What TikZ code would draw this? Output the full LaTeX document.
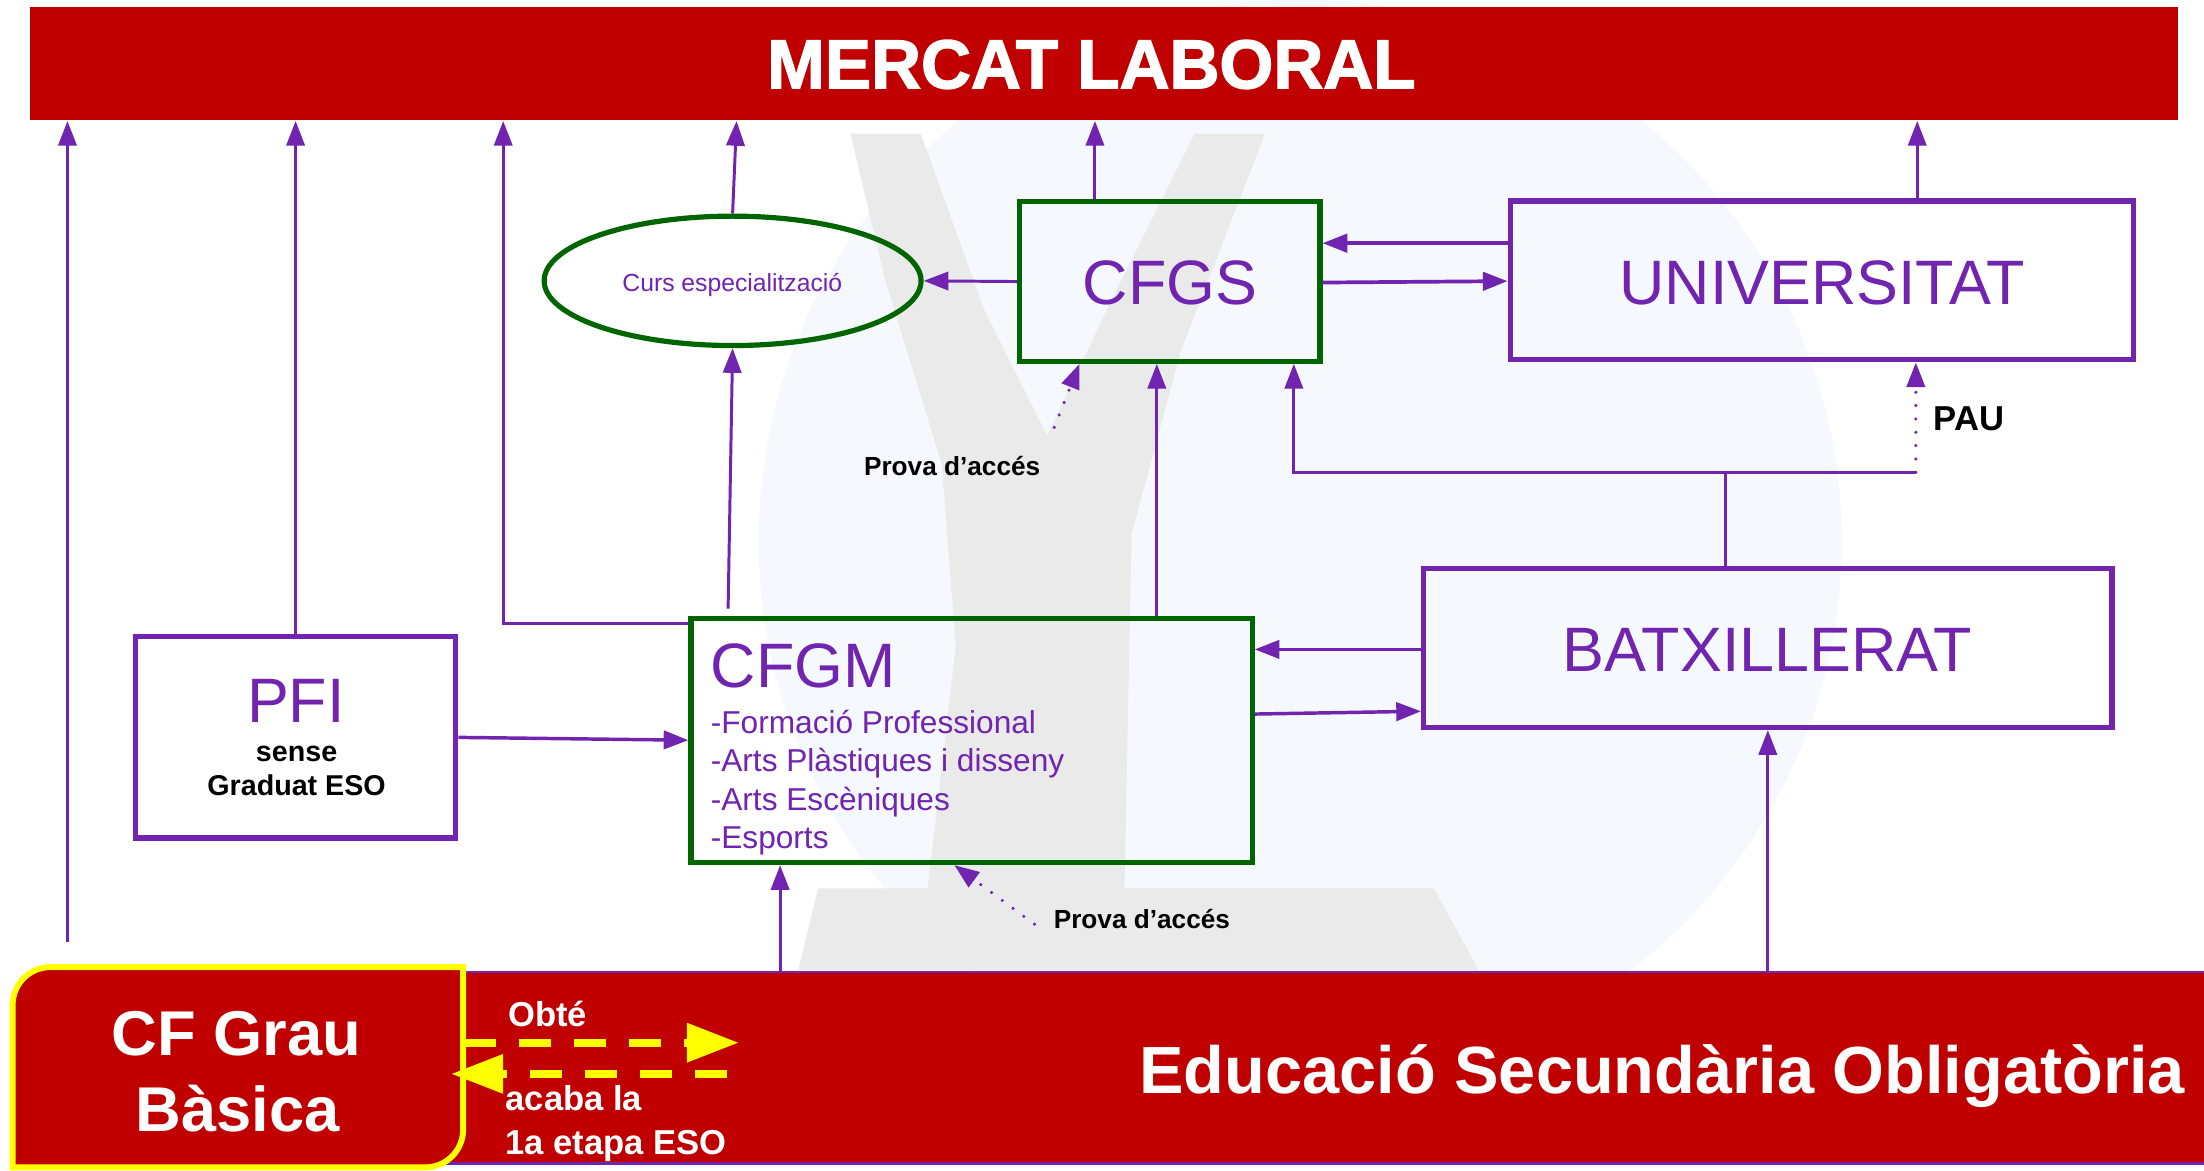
\documentclass[tikz,border=0pt]{standalone}
\usepackage{fontspec}
\setmainfont{Liberation Sans}
\newfontfamily\heavy[FakeBold=2]{Liberation Sans}
\usetikzlibrary{arrows.meta,shapes.geometric}
\definecolor{mred}{HTML}{C00000}
\definecolor{mpur}{HTML}{7024B0}
\definecolor{mgrn}{HTML}{006400}
\definecolor{myel}{HTML}{FFFF00}
\definecolor{wmgray}{HTML}{EAEAEA}
\definecolor{wmblue}{HTML}{F5F8FC}
\begin{document}
\begin{tikzpicture}[x=0.01cm,y=-0.01cm,
  pbox/.style={draw=mpur,line width=1.05pt,inner sep=0pt},
  gbox/.style={draw=mgrn,line width=1.05pt,inner sep=0pt},
  arr/.style={draw=mpur,line width=0.6pt,-{Triangle[length=5pt,width=3.7pt]}},
  ln/.style={draw=mpur,line width=0.6pt},
  dotarr/.style={draw=mpur,line width=0.7pt,line cap=round,dash pattern=on 0pt off 2.7pt,-{Triangle[length=5pt,width=3.7pt]}},
  big/.style={font=\fontsize{12.7}{15}\selectfont,text=mpur,inner sep=0pt},
  item/.style={font=\fontsize{6.4}{7.7}\selectfont,text=mpur,inner sep=0pt,anchor=base west},
  blk/.style={text=black,inner sep=0pt},
  wht/.style={text=white,inner sep=0pt},
  yarr/.style={draw=myel,line width=1.6pt,dash pattern=on 6.5pt off 4.6pt,-{Triangle[length=10.5pt,width=7.6pt]}}
]
\useasboundingbox (0,0) rectangle (1568,833);
\fill[white] (0,0) rectangle (1568,833);

% faint watermark
\fill[wmblue] (925,385) circle[radius=3.85cm];
\fill[wmgray] (568,690) -- (582,632) -- (1020,632) -- (1052,690) -- cycle;
\fill[wmgray] (660,632) -- (680,460) -- (670,330) -- (630,200) -- (605,95) -- (655,95) -- (700,220) -- (745,310) -- (790,215) -- (850,95) -- (900,95) -- (840,250) -- (805,380) -- (800,632) -- cycle;

% banners
\node[fill=mred,minimum width=15.27cm,minimum height=0.807cm,inner sep=0pt] (mercat) at (785.5,45) {};
\node[wht,font=\heavy\bfseries\fontsize{14}{16}\selectfont,anchor=base] (mercatt) at (776.5,62.8) {MERCAT LABORAL};
\node[fill=mred,draw=mpur,line width=0.5pt,minimum width=12.8cm,minimum height=1.36cm,inner sep=0pt] (eso) at (940,759.6) {};
\node[wht,font=\bfseries\fontsize{13.5}{16}\selectfont,anchor=base] (esot) at (1182.5,777.6) {Educació Secundària Obligatòria};

% CF Grau Basica box
\filldraw[fill=mred,draw=myel,line width=1.2pt] (9,830.5) -- (9,715) .. controls (9,700) and (21,688) .. (36,688) -- (329.5,688) -- (329.5,803.5) .. controls (329.5,818.5) and (317.5,830.5) .. (302.5,830.5) -- cycle;
\node[inner sep=0pt,minimum width=3.205cm,minimum height=1.425cm] (cf) at (169.25,759.25) {};
\node[wht,font=\bfseries\fontsize{12.8}{15}\selectfont,anchor=base] (cf1) at (168,750.6) {CF Grau};
\node[wht,font=\bfseries\fontsize{12.8}{15}\selectfont,anchor=base] (cf2) at (169,805) {Bàsica};

% boxes
\node[gbox,minimum width=2.134cm,minimum height=1.134cm] (cfgs) at (832.3,200.3) {};
\node[big] (cfgst) at (832.3,201) {CFGS};
\node[pbox,minimum width=4.43cm,minimum height=1.13cm] (univ) at (1296,199.5) {};
\node[big] (univt) at (1296.5,201) {UNIVERSITAT};
\node[pbox,minimum width=4.895cm,minimum height=1.131cm] (batx) at (1257.7,461) {};
\node[big] (batxt) at (1257.5,462.5) {BATXILLERAT};
\node[pbox,minimum width=2.277cm,minimum height=1.434cm] (pfi) at (210.3,524.5) {};
\node[big,anchor=base] (pfit) at (210.5,514) {PFI};
\node[blk,font=\bfseries\fontsize{5.8}{7}\selectfont,anchor=base] (sense) at (211,542) {sense};
\node[blk,font=\bfseries\fontsize{5.8}{7}\selectfont,anchor=base] (grad) at (211,565.6) {Graduat ESO};
\node[gbox,minimum width=3.99cm,minimum height=1.736cm] (cfgm) at (691.2,526.8) {};
\node[big,anchor=base west] (cfgmt) at (505,489) {CFGM};
\node[item] (i1) at (505,521.7) {-Formació Professional};
\node[item] (i2) at (505,549) {-Arts Plàstiques i disseny};
\node[item] (i3) at (505,576.3) {-Arts Escèniques};
\node[item] (i4) at (505,603.5) {-Esports};
\node[ellipse,draw=mgrn,line width=1.05pt,minimum width=2.68cm,minimum height=0.92cm,inner sep=0pt] (ell) at (521.2,199.8) {};
\node[font=\fontsize{5}{6}\selectfont,text=mpur,inner sep=0pt,anchor=base] (ellt) at (521,207.5) {Curs especialització};

% connectors to the labour market
\coordinate (s48) at (48,670);
\draw[arr] (s48) -- (s48 |- mercat.south);
\draw[arr] (pfi.north) -- (pfi.north |- mercat.south);
\coordinate (k357) at (358,443.5);
\draw[arr] (cfgm.west |- k357) -- (k357) -- (k357 |- mercat.south);
\draw[arr] (ell.north) -- (524,0 |- mercat.south);
\draw[arr] (779,0 |- cfgs.north) -- (779,0 |- mercat.south);
\draw[arr] (1364,0 |- univ.north) -- (1364,0 |- mercat.south);

% other connectors
\draw[arr] (cfgs.west) -- (ell.east);
\draw[arr,line width=0.75pt] (univ.west |- 0,173) -- (cfgs.east |- 0,173);
\draw[arr,line width=0.75pt] (cfgs.east |- 0,201) -- (univ.west |- 0,200);
\coordinate (pa1) at (750,304);
\draw[dotarr] (pa1) -- (768,0 |- cfgs.south);
\node[blk,font=\bfseries\fontsize{5.3}{6}\selectfont,anchor=base west] (prova1) at (614,338) {Prova d’accés};
\draw[arr] (823,0 |- cfgm.north) -- (823,0 |- cfgs.south);
\coordinate (e1) at (518,433);
\draw[arr] (e1) -- (ell.south);
\coordinate (jb) at (1227.6,336);
\coordinate (jl) at (920.5,336);
\coordinate (jr) at (1363,336);
\draw[ln] (jb |- batx.north) -- (jb);
\draw[arr] (jr) -- (jl) -- (jl |- cfgs.south);
\draw[dotarr] (jr) -- (jr |- univ.south);
\node[blk,font=\bfseries\fontsize{7}{8}\selectfont,anchor=base west] (pau) at (1375,306) {PAU};
\draw[arr,line width=0.7pt] (batx.west |- 0,462) -- (cfgm.east |- 0,462);
\draw[arr,line width=0.7pt] (cfgm.east |- 0,508) -- (batx.west |- 0,506);
\draw[arr,line width=0.7pt] (pfi.east |- 0,524.6) -- (cfgm.west |- 0,526.6);
\draw[arr] (555,0 |- eso.north) -- (555,0 |- cfgm.south);
\coordinate (pa2) at (736,657.5);
\draw[dotarr] (pa2) -- (679,0 |- cfgm.south);
\node[blk,font=\bfseries\fontsize{5.3}{6}\selectfont,anchor=base west] (prova2) at (749,660.4) {Prova d’accés};
\draw[arr] (batx.south |- eso.north) -- (batx.south);

% yellow arrows
\coordinate (yo) at (525.6,741.8);
\draw[yarr] (cf.east |- yo) -- (yo);
\coordinate (ya) at (517,764);
\coordinate (yb) at (321,764);
\draw[yarr] (ya) -- (yb);
\node[wht,font=\bfseries\fontsize{7}{8}\selectfont,anchor=base west] (obte) at (361,730.4) {Obté};
\node[wht,font=\bfseries\fontsize{7}{8}\selectfont,anchor=base west] (acaba) at (359,789.7) {acaba la};
\node[wht,font=\bfseries\fontsize{7}{8}\selectfont,anchor=base west] (etapa) at (359,821.7) {1a etapa ESO};
\end{tikzpicture}
\end{document}
